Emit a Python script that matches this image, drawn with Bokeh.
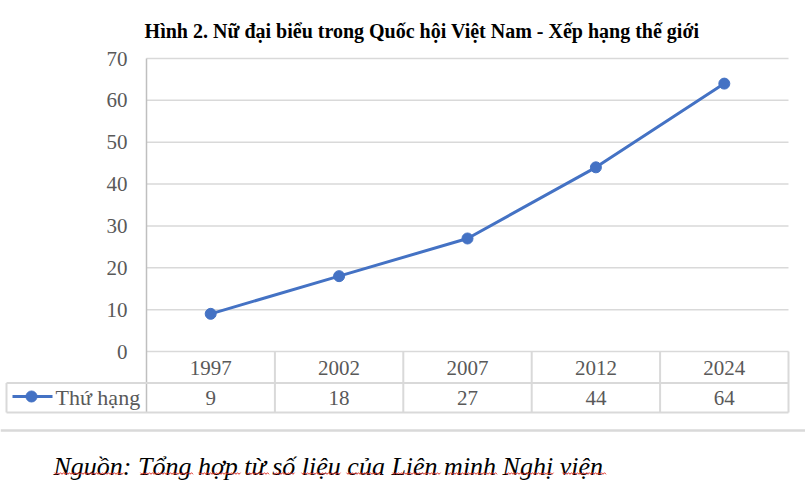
import numpy as np
from bokeh.plotting import figure
from bokeh.models import Range1d
from bokeh.core.properties import value
from bokeh.embed import file_html
from bokeh.resources import INLINE

# ---- data ----
years = ["1997", "2002", "2007", "2012", "2024"]
ranks = [9, 18, 27, 44, 64]
y_ticks = [0, 10, 20, 30, 40, 50, 60, 70]
series_name = "Thứ hạng"
title_text = "Hình 2. Nữ đại biểu trong Quốc hội Việt Nam - Xếp hạng thế giới"
source_text = "Nguồn: Tổng hợp từ số liệu của Liên minh Nghị viện"

FONT = "Liberation Serif"
BLUE = "#4472C4"
GRID = "#D9D9D9"
LABEL = "#595959"

# ---- layout (screen pixels of the 805x483 window) ----
M = 0                      # observed page offset
W, H = 805, 483
PLOT_L, PLOT_R = 146.0, 788.0
PLOT_T, PLOT_B = 58.0, 351.0
YMAX = 70.0
n = len(years)
col_w = (PLOT_R - PLOT_L) / n
ppu = (PLOT_B - PLOT_T) / YMAX

def sx(px):   # screen x -> column index units
    return (np.asarray(px, dtype=float) - PLOT_L) / col_w

def sv(py):   # screen y -> value units
    return (PLOT_B - np.asarray(py, dtype=float)) / ppu

p = figure(width=W, height=H, x_range=Range1d(float(sx(M)), float(sx(M + W))),
           y_range=Range1d(float(sv(M + H)), float(sv(M))),
           output_backend="svg", toolbar_location=None,
           x_axis_location=None, y_axis_location=None, min_border=0,
           outline_line_color=None)
p.grid.visible = False

# gridlines (y ticks) and value axis
p.segment(x0=[0] * len(y_ticks), x1=[n] * len(y_ticks), y0=y_ticks, y1=y_ticks,
          line_color=GRID, line_width=1.5)
p.segment(x0=[0], x1=[0], y0=[float(sv(412))], y1=[YMAX], line_color="#BFBFBF", line_width=1.5)
p.text(x=[float(sx(127))] * len(y_ticks), y=y_ticks, text=[str(t) for t in y_ticks],
       text_font=value(FONT), text_font_size="21px", text_color=LABEL,
       text_align="right", text_baseline="middle")

# title
p.text(x=[float(sx(421.5))], y=[float(sv(30))], text=[title_text], text_font=value(FONT),
       text_font_size="20px", text_font_style="bold", text_color="black",
       text_align="center", text_baseline="alphabetic")

# series
centers = [i + 0.5 for i in range(n)]
p.line(x=centers, y=ranks, line_color=BLUE, line_width=3)
p.scatter(x=centers, y=ranks, size=11, fill_color=BLUE, line_color=BLUE)

# data table
row1, row2 = float(sv(382.5)), float(sv(412))
p.segment(x0=[float(sx(6)), float(sx(6))], x1=[n, n], y0=[row1, row2], y1=[row1, row2],
          line_color=GRID, line_width=2)
p.segment(x0=list(range(1, n + 1)), x1=list(range(1, n + 1)), y0=[0] * n, y1=[row2] * n,
          line_color=GRID, line_width=2)
p.segment(x0=[float(sx(6))], x1=[float(sx(6))], y0=[row1], y1=[row2], line_color=GRID, line_width=2)
p.text(x=centers, y=[float(sv(367))] * n, text=years, text_font=value(FONT),
       text_font_size="21px", text_color=LABEL, text_align="center", text_baseline="middle")
p.text(x=centers, y=[float(sv(397))] * n, text=[str(v) for v in ranks], text_font=value(FONT),
       text_font_size="21px", text_color=LABEL, text_align="center", text_baseline="middle")

# legend key
p.line(x=list(sx([12, 52])), y=[float(sv(396))] * 2, line_color=BLUE, line_width=3)
p.scatter(x=[float(sx(31))], y=[float(sv(396))], size=11, fill_color=BLUE, line_color=BLUE)
p.text(x=[float(sx(55))], y=[float(sv(397))], text=[series_name], text_font=value(FONT),
       text_font_size="22px", text_color=LABEL, text_align="left", text_baseline="middle")

# separator
p.segment(x0=[float(sx(0))], x1=[float(sx(805))], y0=[float(sv(430))], y1=[float(sv(430))],
          line_color=GRID, line_width=2.5)

# source
p.text(x=[float(sx(53))], y=[float(sv(466))], text=[source_text], text_font=value(FONT),
       text_font_size="26px", text_font_style="italic", text_color="black",
       text_align="left", text_baseline="alphabetic")

# spell-check style wavy underline
words = [(54, 124), (140, 193), (198, 240), (246, 269), (273, 295), (301, 340),
         (346, 381), (392, 441), (447, 497), (505, 554), (562, 606)]
xs, ys = [], []
for a, b in words:
    px = np.arange(a, b + 0.1, 1.5)
    py = 473 + np.where((np.arange(len(px)) % 2) == 0, -0.8, 0.8)
    xs.append(list(sx(px)))
    ys.append(list(sv(py)))
p.multi_line(xs=xs, ys=ys, line_color="#E0322A", line_width=1)

open("out.html", "w").write(file_html(p, INLINE))
